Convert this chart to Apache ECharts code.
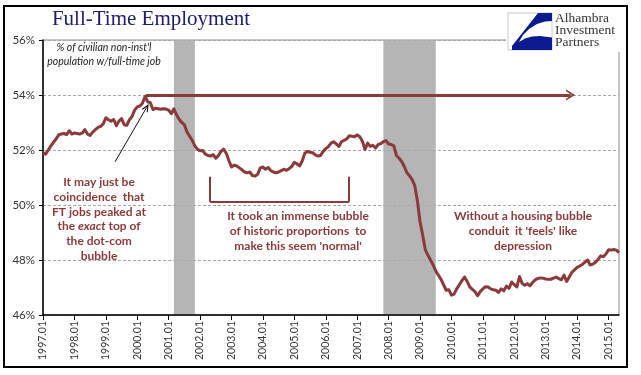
<!DOCTYPE html>
<html>
<head>
<meta charset="utf-8">
<script src="https://cdn.jsdelivr.net/npm/echarts@6/dist/echarts.min.js"></script>
<style>
  html, body { margin: 0; padding: 0; background: #fff; }
  #chart { width: 641px; height: 375px; }
</style>
</head>
<body>
<div id="chart"></div>
<script>
// ---- Data (monthly, % of civilian non-institutional population with full-time job) ----
const startYear = 1997;
const v1997 = [51.90, 51.85, 52.00, 52.15, 52.28, 52.40, 52.55, 52.58, 52.60, 52.56, 52.70, 52.58];
const v1998 = [52.62, 52.60, 52.58, 52.62, 52.74, 52.58, 52.53, 52.65, 52.74, 52.82, 52.86, 52.95];
const v1999 = [53.17, 53.10, 53.05, 53.11, 52.88, 53.05, 53.14, 52.92, 52.90, 53.10, 53.22, 53.45];
const v2000 = [53.57, 53.60, 53.70, 53.95, 53.75, 53.72, 53.47, 53.52, 53.50, 53.48, 53.50, 53.49];
const v2001 = [53.45, 53.32, 53.50, 53.28, 53.12, 53.00, 52.92, 52.65, 52.50, 52.35, 52.15, 52.02];
const v2002 = [51.97, 51.98, 51.85, 51.80, 51.78, 51.83, 51.70, 51.80, 51.95, 52.03, 51.88, 51.62];
const v2003 = [51.38, 51.45, 51.42, 51.35, 51.28, 51.20, 51.17, 51.20, 51.07, 51.05, 51.12, 51.35];
const v2004 = [51.38, 51.30, 51.36, 51.25, 51.20, 51.17, 51.20, 51.25, 51.30, 51.26, 51.32, 51.40];
const v2005 = [51.55, 51.50, 51.42, 51.60, 51.88, 51.95, 51.92, 51.90, 51.82, 51.78, 51.80, 51.95];
const v2006 = [52.05, 52.12, 52.25, 52.30, 52.22, 52.13, 52.30, 52.35, 52.40, 52.52, 52.50, 52.48];
const v2007 = [52.55, 52.48, 52.32, 52.02, 52.25, 52.13, 52.17, 52.07, 52.20, 52.23, 52.30, 52.34];
const v2008 = [52.22, 52.20, 52.15, 51.80, 51.70, 51.58, 51.40, 51.17, 51.06, 50.92, 50.70, 50.15];
const v2009 = [49.40, 48.92, 48.38, 48.18, 48.00, 47.82, 47.60, 47.45, 47.30, 47.10, 46.90, 46.92];
const v2010 = [46.72, 46.76, 46.95, 47.10, 47.25, 47.38, 47.22, 47.02, 46.93, 46.85, 46.70, 46.85];
const v2011 = [46.95, 47.03, 47.02, 46.95, 46.92, 46.90, 46.82, 46.95, 46.88, 47.05, 46.97, 47.20];
const v2012 = [47.10, 47.02, 47.40, 47.15, 47.08, 47.14, 47.06, 47.18, 47.28, 47.33, 47.35, 47.34];
const v2013 = [47.31, 47.30, 47.30, 47.34, 47.38, 47.32, 47.28, 47.45, 47.22, 47.38, 47.55, 47.64];
const v2014 = [47.73, 47.78, 47.84, 47.92, 48.00, 47.82, 47.85, 47.92, 48.02, 48.15, 48.12, 48.22];
const v2015 = [48.37, 48.36, 48.38, 48.36, 48.27];

const yearly = [v1997, v1998, v1999, v2000, v2001, v2002, v2003, v2004, v2005, v2006,
                v2007, v2008, v2009, v2010, v2011, v2012, v2013, v2014, v2015];

// Recession periods (month indexes from 1997.01)
const recessions = [[50, 58], [130, 150]];
const yTicks = [46, 48, 50, 52, 54, 56];

// ---- Build categories & series ----
const categories = [];
const values = [];
yearly.forEach((arr, yi) => {
  arr.forEach((v, mi) => {
    categories.push((startYear + yi) + '.' + String(mi + 1).padStart(2, '0'));
    values.push(v);
  });
});

const RED = '#8b3a3a';
const SANS = 'Lato, "Open Sans", sans-serif';
const SERIF = '"Liberation Serif", "DejaVu Serif", serif';
const CHEVRON = 'path://M0,10 L5,0 L10,10 L8.4,10 L5,3.6 L1.6,10 Z';

const chart = echarts.init(document.getElementById('chart'), null, { renderer: 'canvas' });

const annoText = (x, y, lines) => ({
  type: 'text', x: x, y: y, z: 50,
  style: {
    text: lines.join('\n'), fill: RED, font: 'bold 12px ' + SANS,
    textAlign: 'center', textVerticalAlign: 'top', lineHeight: 14.7,
    rich: { i: { fontStyle: 'italic', fontWeight: 'bold', fontSize: 12, fontFamily: SANS, fill: RED, lineHeight: 14.7 } }
  }
});

chart.setOption({
  animation: false,
  backgroundColor: '#fff',
  grid: { left: 43, right: 22, top: 40, bottom: 60, show: true, borderColor: '#8a8a8a', borderWidth: 1, backgroundColor: 'transparent' },
  xAxis: [{
    type: 'category', data: categories, boundaryGap: false, z: 3,
    axisLine: { lineStyle: { color: '#000', width: 1.5 } },
    axisTick: { interval: (i) => i % 12 === 0, length: 5, lineStyle: { color: '#000' } },
    axisLabel: { interval: (i) => i % 12 === 0, rotate: 90, fontSize: 10.5, color: '#333', margin: 6, fontFamily: SANS },
    splitLine: { show: false }
  }, {
    type: 'value', min: 0, max: categories.length - 1, show: false
  }],
  yAxis: {
    type: 'value', min: yTicks[0], max: yTicks[yTicks.length - 1], interval: 2, z: 3,
    axisLine: { show: true, lineStyle: { color: '#000', width: 1.5 } },
    axisTick: { show: true, length: 4, lineStyle: { color: '#000' } },
    axisLabel: { formatter: '{value}%', fontSize: 11.5, color: '#333', margin: 8, fontFamily: SANS },
    splitLine: { show: true, lineStyle: { type: [3, 2], color: '#a8a8a8', width: 1 } }
  },
  series: [
    {
      name: 'FT', type: 'line', data: values, xAxisIndex: 0, yAxisIndex: 0,
      showSymbol: false, symbol: 'none', z: 4,
      lineStyle: { color: RED, width: 3, join: 'round' }
    },
    {
      name: 'recession', type: 'line', data: [], xAxisIndex: 1, yAxisIndex: 0, z: 1,
      markArea: {
        silent: true, itemStyle: { color: '#b5b5b5', opacity: 1 },
        data: recessions.map(r => [{ xAxis: r[0] }, { xAxis: r[1] }])
      }
    },
    {
      name: 'anno', type: 'line', data: [], xAxisIndex: 1, yAxisIndex: 0, z: 5,
      markLine: {
        silent: true, symbol: 'none', label: { show: false },
        data: [
          [{ coord: [39.3, 54], symbol: 'none', lineStyle: { color: RED, width: 3, type: 'solid' } },
           { coord: [201.5, 54], symbol: CHEVRON, symbolSize: [11, 9] }],
          [{ coord: [27.5, 51.57], symbol: 'none', lineStyle: { color: '#111', width: 1, type: 'solid' } },
           { coord: [39.6, 53.55], symbol: CHEVRON, symbolSize: [7, 8] }],
          [{ coord: [63.8, 51.03], lineStyle: { color: RED, width: 2, type: 'solid' } }, { coord: [63.8, 50.12] }],
          [{ coord: [63.8, 50.12], lineStyle: { color: RED, width: 2, type: 'solid' } }, { coord: [116.9, 50.12] }],
          [{ coord: [116.9, 50.12], lineStyle: { color: RED, width: 2, type: 'solid' } }, { coord: [116.9, 51.03] }]
        ]
      }
    }
  ],
  graphic: [
    { type: 'text', x: 151, y: 19, z: 50, style: { text: 'Full-Time Employment', font: '21px ' + SERIF, fill: '#1c1c6a', textAlign: 'center', textVerticalAlign: 'middle' } },
    { type: 'text', x: 104, y: 55, z: 50, style: { text: "% of civilian non-inst'l\npopulation w/full-time job", font: 'italic 10.5px ' + SANS, fill: '#222', textAlign: 'center', textVerticalAlign: 'middle', lineHeight: 14 } },
    { type: 'rect', z: 40, shape: { x: 506, y: 8, width: 120, height: 44 }, style: { fill: '#fff' } },
    { type: 'rect', z: 41, shape: { x: 508, y: 13, width: 44, height: 37 }, style: { fill: '#fff', stroke: '#c8c8c8', lineWidth: 1 } },
    { type: 'polygon', z: 42, shape: { points: [[538,13],[552,13],[552,21],[545,21.5],[537,24],[529,29],[523,35],[519,42],[525,38.5],[532,36.5],[540,36],[552,37.5],[552,50],[512,50],[512,46]] }, style: { fill: '#0b1a8c' } },
    { type: 'text', x: 555, y: 12, z: 42, style: { text: 'Alhambra\nInvestment\nPartners', font: '13.5px ' + SERIF, fill: '#333', textAlign: 'left', textVerticalAlign: 'top', lineHeight: 12 } },
    annoText(99, 175, ['It may just be', 'coincidence  that', 'FT jobs peaked at', 'the {i|exact} top of', 'the dot-com', 'bubble']),
    annoText(298, 209, ['It took an immense bubble', 'of historic proportions  to', "make this seem 'normal'"]),
    annoText(523, 209, ['Without a housing bubble', "conduit  it 'feels' like", 'depression']),
    { type: 'rect', z: 60, shape: { x: 4, y: 6, width: 623, height: 361 }, style: { fill: 'none', stroke: '#000', lineWidth: 2 } }
  ]
});
</script>
</body>
</html>
